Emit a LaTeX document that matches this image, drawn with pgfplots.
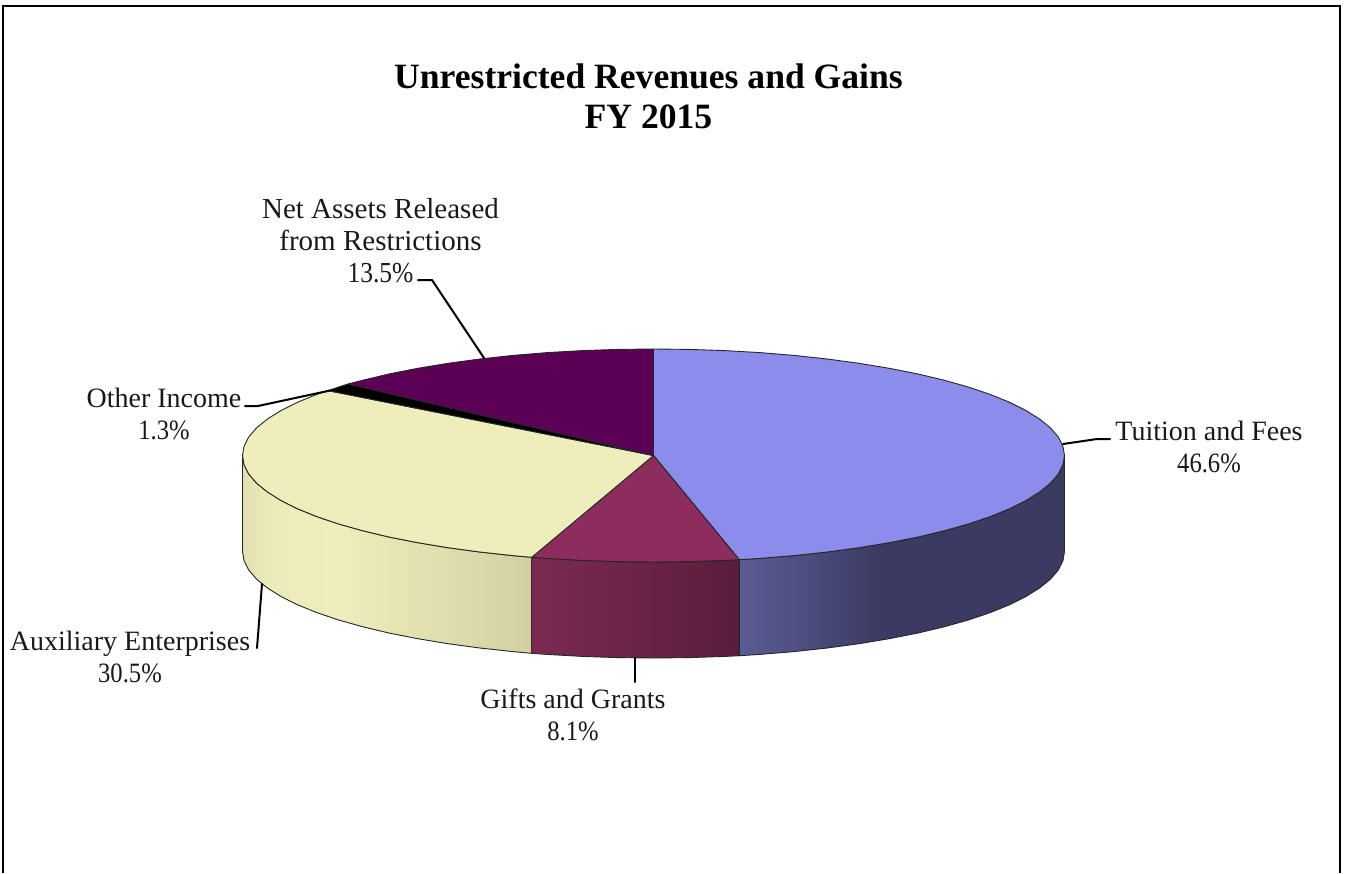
\documentclass[border=0pt]{standalone}
\usepackage{fontspec}
\setmainfont{Liberation Serif}
\usepackage{pgfplots}
\pgfplotsset{compat=1.18}
\definecolor{tuitTop}{HTML}{8C8CEC}
\definecolor{giftTop}{HTML}{8C2D5E}
\definecolor{auxTop}{HTML}{EEEEBC}
\definecolor{netTop}{HTML}{5C0055}
\definecolor{tA}{HTML}{5C5C96}
\definecolor{tB}{HTML}{3A3A62}
\definecolor{gA}{HTML}{7C2A53}
\definecolor{gB}{HTML}{5A1D3C}
\definecolor{aA}{HTML}{E0E0B0}
\definecolor{aB}{HTML}{ECECBB}
\definecolor{aC}{HTML}{D0D0A2}
\pgfdeclarehorizontalshading{tside}{100bp}{color(0bp)=(tA);color(25bp)=(tA);color(47bp)=(tB);color(100bp)=(tB)}
\pgfdeclarehorizontalshading{gside}{100bp}{color(0bp)=(gA);color(25bp)=(gA);color(75bp)=(gB);color(100bp)=(gB)}
\pgfdeclarehorizontalshading{aside}{100bp}{color(0bp)=(aA);color(25bp)=(aA);color(30bp)=(aB);color(42bp)=(auxTop);color(75bp)=(aC);color(100bp)=(aC)}
\tikzset{
  lbl/.style={align=center,font=\fontsize{28}{32}\selectfont,inner sep=0pt,text=black!90},
  leader/.style={draw=black,line width=2pt},
  edge/.style={draw=black!85,line width=0.9pt},
}
\newcommand{\pct}[1]{\scalebox{0.88}[1]{#1}}
\begin{document}
\begin{tikzpicture}
\path[use as bounding box] (0,0) rectangle (1346pt,873pt);
\begin{axis}[
  at={(0,0)},anchor=south west,
  scale only axis,width=1346pt,height=873pt,
  xmin=0,xmax=1346,ymin=0,ymax=873,y dir=reverse,
  axis lines=none,clip=false,
  every axis plot/.append style={mark=none,line join=round,line cap=round},
]
% side faces
\addplot[edge,shade,shading=aside] coordinates {
(242.5,455.5)(244.1,464.8)(248.7,474)(256.5,483.1)(267.3,491.9)(281,500.5)(297.6,508.8)(316.8,516.6)(338.7,524)(362.9,530.8)(389.3,537.1)(417.8,542.7)(448,547.7)(479.8,552)(512.9,555.6)(531.7,557.3)
(531.7,653.3)(512.9,651.6)(479.8,648)(448,643.7)(417.8,638.7)(389.3,633.1)(362.9,626.8)(338.7,620)(316.8,612.6)(297.6,604.8)(281,596.5)(267.3,587.9)(256.5,579.1)(248.7,570)(244.1,560.8)(242.5,551.5)(242.5,455.5)};
\addplot[edge,shade,shading=gside] coordinates {
(531.7,557.3)(547.1,558.4)(582.1,560.4)(617.7,561.6)(653.5,562)(689.3,561.6)(724.9,560.4)(739.3,559.7)
(739.3,655.7)(724.9,656.4)(689.3,657.6)(653.5,658)(617.7,657.6)(582.1,656.4)(547.1,654.4)(531.7,653.3)(531.7,557.3)};
\addplot[edge,shade,shading=tside] coordinates {
(739.3,559.7)(759.9,558.4)(794.1,555.6)(827.2,552)(859,547.7)(889.2,542.7)(917.7,537.1)(944.1,530.8)(968.3,524)(990.2,516.6)(1009.4,508.8)(1026,500.5)(1039.7,491.9)(1050.5,483.1)(1058.3,474)(1062.9,464.8)(1064.5,455.5)
(1064.5,551.5)(1062.9,560.8)(1058.3,570)(1050.5,579.1)(1039.7,587.9)(1026,596.5)(1009.4,604.8)(990.2,612.6)(968.3,620)(944.1,626.8)(917.7,633.1)(889.2,638.7)(859,643.7)(827.2,648)(794.1,651.6)(759.9,654.4)(739.3,655.7)(739.3,559.7)};
% top faces
\addplot[edge,fill=tuitTop] coordinates {
(653.5,455.5)(653.5,349)(689.3,349.4)(724.9,350.6)(759.9,352.6)(794.1,355.4)(827.2,359)(859,363.3)(889.2,368.3)(917.7,373.9)(944.1,380.2)(968.3,387)(990.2,394.4)(1009.4,402.2)(1026,410.5)(1039.7,419.1)(1050.5,427.9)(1058.3,437)(1062.9,446.2)(1064.5,455.5)
(1062.9,464.8)(1058.3,474)(1050.5,483.1)(1039.7,491.9)(1026,500.5)(1009.4,508.8)(990.2,516.6)(968.3,524)(944.1,530.8)(917.7,537.1)(889.2,542.7)(859,547.7)(827.2,552)(794.1,555.6)(759.9,558.4)(739.3,559.7)(653.5,455.5)};
\addplot[edge,fill=giftTop] coordinates {
(653.5,455.5)(739.3,559.7)(724.9,560.4)(689.3,561.6)(653.5,562)(617.7,561.6)(582.1,560.4)(547.1,558.4)(531.7,557.3)(653.5,455.5)};
\addplot[edge,fill=auxTop] coordinates {
(653.5,455.5)(531.7,557.3)(512.9,555.6)(479.8,552)(448,547.7)(417.8,542.7)(389.3,537.1)(362.9,530.8)(338.7,524)(316.8,516.6)(297.6,508.8)(281,500.5)(267.3,491.9)(256.5,483.1)(248.7,474)(244.1,464.8)(242.5,455.5)
(244.1,446.2)(248.7,437)(256.5,427.9)(267.3,419.1)(281,410.5)(297.6,402.2)(316.8,394.4)(328,390.6)(653.5,455.5)};
\addplot[edge,fill=black] coordinates {
(653.5,455.5)(328,390.6)(338.7,387)(348,384)(653.5,455.5)};
\addplot[edge,fill=netTop] coordinates {
(653.5,455.5)(348,384)(362.9,380.2)(389.3,373.9)(417.8,368.3)(448,363.3)(479.8,359)(512.9,355.4)(547.1,352.6)(582.1,350.6)(617.7,349.4)(653.5,349)(653.5,455.5)};
% leader lines
\addplot[leader] coordinates {(1063,444)(1097,439)(1110,439)};
\addplot[leader] coordinates {(635,658)(635,682)};
\addplot[leader] coordinates {(262,584)(257,648)};
\addplot[leader] coordinates {(245,406)(258,406)(330,390.5)};
\addplot[leader] coordinates {(418,280)(432,280)(484,358)};
% frame
\addplot[draw=black,line width=2pt,line cap=butt,line join=miter] coordinates {(2.7,873)(2.7,5.7)(1340,5.7)(1340,873)};
% texts
\node[align=center,font=\fontsize{35.6}{40}\selectfont\bfseries,inner sep=0pt,text=black] at (axis cs:648.5,96) {Unrestricted Revenues and Gains\\FY 2015};
\node[lbl] at (axis cs:1209,447) {Tuition and Fees\\\pct{46.6\%}};
\node[lbl,font=\fontsize{29}{32}\selectfont] at (axis cs:380.5,241) {Net Assets Released\\from Restrictions\\\pct{13.5\%}};
\node[lbl] at (axis cs:164,414) {Other Income\\\pct{1.3\%}};
\node[lbl] at (axis cs:130,657) {Auxiliary Enterprises\\\pct{30.5\%}};
\node[lbl] at (axis cs:573,715) {Gifts and Grants\\\pct{8.1\%}};
\end{axis}
\end{tikzpicture}
\end{document}
